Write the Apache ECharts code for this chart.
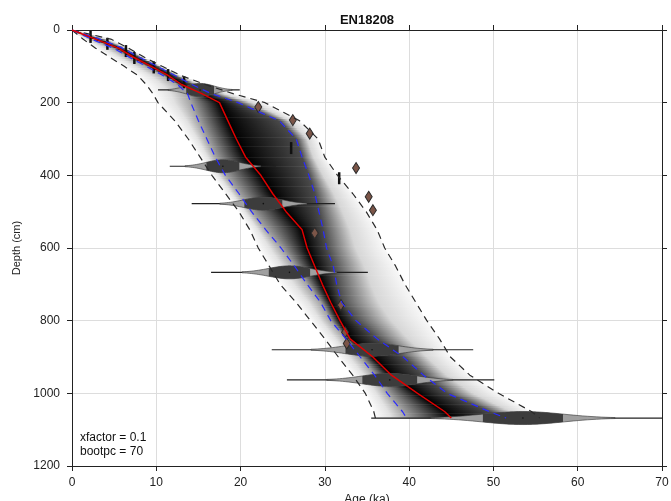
<!DOCTYPE html>
<html lang="en">
<head>
<meta charset="UTF-8">
<script src="https://cdn.jsdelivr.net/npm/echarts@6/dist/echarts.min.js"></script>
<title>EN18208</title>
<style>
  html, body { margin: 0; padding: 0; background: #fff; }
  #main { width: 671px; height: 501px; }
</style>
</head>
<body>
<div id="main"></div>
<script>
  // age-depth model quantiles (age in ka at each depth in cm)
  var depth   = [0, 25, 50, 75, 100, 125, 150, 175, 200, 250, 300, 350, 400, 450, 500, 550, 600, 650, 700, 750, 800, 850, 900, 950, 1000, 1050, 1068];
  var ageLo95 = [0, 1.3, 2.8, 4.5, 6.2, 7.8, 8.8, 9.6, 10.2, 12.2, 13.8, 15.2, 16.6, 18.2, 19.8, 21.1, 22.1, 23.4, 24.7, 26.6, 28.3, 30.0, 31.6, 33.3, 34.8, 35.8, 36.0];
  var ageLo   = [0, 2.3, 4.9, 6.8, 8.8, 10.8, 12.5, 13.7, 14.1, 15.0, 16.0, 17.0, 18.2, 19.8, 21.3, 23.0, 24.8, 26.4, 27.9, 29.5, 30.7, 32.5, 34.2, 35.9, 37.4, 39.2, 39.7];
  var ageMed  = [0, 2.8, 5.5, 7.3, 9.4, 11.4, 13.0, 15.4, 17.5, 18.5, 19.5, 20.6, 22.4, 23.8, 25.4, 27.3, 27.9, 28.8, 29.7, 30.7, 31.8, 33.0, 35.7, 37.9, 41.0, 44.2, 45.0];
  var ageHi   = [0, 3.3, 6.0, 8.0, 10.1, 12.2, 14.2, 16.5, 19.7, 24.6, 26.6, 27.3, 28.1, 28.8, 29.3, 29.8, 30.2, 31.0, 31.4, 32.0, 33.7, 36.2, 39.3, 41.7, 44.5, 49.5, 51.5];
  var ageHi95 = [0, 4.6, 6.7, 8.6, 10.7, 12.9, 15.8, 19.1, 22.9, 27.0, 29.2, 30.0, 31.5, 33.3, 34.9, 36.2, 37.1, 38.4, 39.5, 40.8, 42.1, 43.6, 44.9, 47.2, 50.6, 54.5, 55.5];

  // wide dates drawn as horizontal distributions
  var dateDepth = [165, 375, 478, 667, 880, 963, 1068];
  var dateAge   = [15.2, 17.9, 22.7, 25.8, 35.6, 37.7, 53.5];
  var dateSd    = [1.65, 1.95, 2.25, 2.45, 3.15, 3.25, 4.75];
  var dateMin   = [10.2, 11.6, 14.2, 16.5, 23.7, 25.5, 35.5];
  var dateMax   = [19.9, 24.2, 31.2, 35.1, 47.6, 50.1, 70];

  // narrow dates (thin vertical marks)
  var tickAge   = [2.2, 4.2, 6.4, 7.4, 9.7, 11.4, 13.3, 26.0, 31.7];
  var tickDepth = [19, 38, 58, 77, 103, 124, 144, 325, 408];

  // outlying dates (brown diamonds)
  var outAge   = [22.1, 26.2, 28.2, 33.7, 35.2, 35.7, 28.8, 31.9, 32.4, 32.6];
  var outDepth = [212, 248, 285, 380, 459, 496, 559, 757, 832, 863];

  function pairs(ages) {
    return depth.map(function (d, i) { return [ages[i], d]; });
  }

  var bands = [ageLo95, ageLo, ageMed, ageHi, ageHi95];

  function renderShade(params, api) {
    var i = api.value(0);
    var d0 = depth[i], d1 = depth[i + 1];
    var p0 = api.coord([0, d0])[1], p1 = api.coord([0, d1])[1];
    var steps = Math.max(1, Math.ceil((p1 - p0) / 2));
    var children = [];
    for (var k = 0; k < steps; k++) {
      var t = (k + 0.5) / steps;
      var d = d0 + (d1 - d0) * t;
      var q = bands.map(function (a) {
        return api.coord([a[i] + (a[i + 1] - a[i]) * t, d])[0];
      });
      var w = q[4] - q[0];
      if (w < 0.5) continue;
      var f = function (x) { return Math.min(1, Math.max(0, (x - q[0]) / w)); };
      var stops = [
        { offset: 0, color: '#fcfcfc' },
        { offset: f((q[0] + q[1]) / 2), color: '#e2e2e2' },
        { offset: f(q[1]), color: '#a4a4a4' },
        { offset: f(q[2]), color: '#000000' },
        { offset: f(q[3]), color: '#4a4a4a' },
        { offset: f((q[3] + q[4]) / 2), color: '#d6d6d6' },
        { offset: 1, color: '#f8f8f8' }
      ];
      var yTop = p0 + (p1 - p0) * k / steps;
      var yBot = p0 + (p1 - p0) * (k + 1) / steps;
      children.push({
        type: 'rect',
        shape: { x: q[0], y: yTop, width: w, height: yBot - yTop + 0.6 },
        style: { fill: new echarts.graphic.LinearGradient(0, 0, 1, 0, stops) },
        silent: true
      });
    }
    return { type: 'group', children: children };
  }

  function renderDate(params, api) {
    var m = api.value(0), dep = api.value(1), s = api.value(2), lo = api.value(3), hi = api.value(4);
    var yc = api.coord([m, dep])[1];
    var H = 6.5;
    function shape(a, b) {
      var top = [], bot = [];
      var n = 40;
      for (var k = 0; k <= n; k++) {
        var x = a + (b - a) * k / n;
        var px = api.coord([x, dep])[0];
        var h = Math.max(0.5, H * Math.exp(-0.5 * Math.pow((x - m) / s, 2)));
        top.push([px, yc - h]);
        bot.unshift([px, yc + h]);
      }
      return top.concat(bot);
    }
    var x0 = api.coord([lo, dep])[0], x1 = api.coord([hi, dep])[0];
    return {
      type: 'group',
      children: [
        { type: 'line', shape: { x1: x0, y1: yc, x2: x1, y2: yc }, style: { stroke: '#222', lineWidth: 1.2 } },
        { type: 'polygon', shape: { points: shape(Math.max(lo, m - 2.3 * s), Math.min(hi, m + 2.3 * s)) }, style: { fill: '#a0a0a0', stroke: '#333', lineWidth: 0.6 } },
        { type: 'polygon', shape: { points: shape(m - s, m + s) }, style: { fill: '#3c3c3c' } },
        { type: 'circle', shape: { cx: api.coord([m, dep])[0], cy: yc, r: 0.8 }, style: { fill: '#111' } }
      ]
    };
  }

  var chart = echarts.init(document.getElementById('main'));

  var font = 'Liberation Sans, Arial, sans-serif';
  var axisText = { color: '#222', fontSize: 12, fontFamily: font };

  chart.setOption({
    animation: false,
    backgroundColor: '#fff',
    grid: { left: 72, right: 9, top: 30, bottom: 35, containLabel: false, outerBoundsMode: 'none' },
    graphic: [
      { type: 'text', x: 367, y: 20, style: { text: 'EN18208', fontSize: 13, fontWeight: 'bold', fill: '#111', align: 'center', verticalAlign: 'middle', fontFamily: font } },
      { type: 'text', x: 80, y: 438, style: { text: 'xfactor = 0.1', fontSize: 12, fill: '#111', verticalAlign: 'middle', fontFamily: font } },
      { type: 'text', x: 80, y: 452, style: { text: 'bootpc = 70', fontSize: 12, fill: '#111', verticalAlign: 'middle', fontFamily: font } }
    ],
    xAxis: [
      {
        type: 'value', min: 0, max: 70, interval: 10, position: 'bottom',
        name: 'Age (ka)', nameLocation: 'middle', nameGap: 26,
        nameTextStyle: axisText,
        axisLine: { show: true, onZero: false, lineStyle: { color: '#222', width: 1 } },
        axisTick: { show: true, length: 5, lineStyle: { color: '#222' } },
        axisLabel: Object.assign({ margin: 11 }, axisText),
        splitLine: { show: true, lineStyle: { color: '#dddddd', width: 1 } }
      },
      {
        type: 'value', min: 0, max: 70, interval: 10, position: 'top',
        axisLine: { show: true, onZero: false, lineStyle: { color: '#222', width: 1 } },
        axisTick: { show: true, length: 5, lineStyle: { color: '#222' } },
        axisLabel: { show: false },
        splitLine: { show: false }
      }
    ],
    yAxis: [
      {
        type: 'value', min: 0, max: 1200, interval: 200, inverse: true, position: 'left',
        name: 'Depth (cm)', nameLocation: 'middle', nameGap: 48,
        nameTextStyle: Object.assign({}, axisText, { fontSize: 11 }),
        axisLine: { show: true, onZero: false, lineStyle: { color: '#222', width: 1 } },
        axisTick: { show: true, length: 5, lineStyle: { color: '#222' } },
        axisLabel: Object.assign({ margin: 12, formatter: function (v) { return String(v); } }, axisText),
        splitLine: { show: true, lineStyle: { color: '#dddddd', width: 1 } }
      },
      {
        type: 'value', min: 0, max: 1200, interval: 200, inverse: true, position: 'right',
        axisLine: { show: true, onZero: false, lineStyle: { color: '#222', width: 1 } },
        axisTick: { show: true, length: 5, lineStyle: { color: '#222' } },
        axisLabel: { show: false },
        splitLine: { show: false }
      }
    ],
    series: [
      {
        type: 'custom', name: 'density', renderItem: renderShade, silent: true, clip: true,
        data: depth.slice(0, -1).map(function (d, i) { return [i]; }),
        encode: { x: [], y: [] }
      },
      {
        type: 'custom', name: 'dates', renderItem: renderDate, silent: true, clip: true,
        data: dateAge.map(function (a, i) { return [a, dateDepth[i], dateSd[i], dateMin[i], dateMax[i]]; }),
        encode: { x: 0, y: 1 }
      },
      {
        type: 'line', name: 'lo95', data: pairs(ageLo95), symbol: 'none', silent: true,
        lineStyle: { color: '#2a2a2a', width: 1.2, type: [7, 5] }
      },
      {
        type: 'line', name: 'hi95', data: pairs(ageHi95), symbol: 'none', silent: true,
        lineStyle: { color: '#2a2a2a', width: 1.2, type: [7, 5] }
      },
      {
        type: 'line', name: 'lo', data: pairs(ageLo), symbol: 'none', silent: true,
        lineStyle: { color: '#2b2bff', width: 1.2, type: [7, 5] }
      },
      {
        type: 'line', name: 'hi', data: pairs(ageHi), symbol: 'none', silent: true,
        lineStyle: { color: '#2b2bff', width: 1.2, type: [7, 5] }
      },
      {
        type: 'line', name: 'median', data: pairs(ageMed), symbol: 'none', silent: true,
        lineStyle: { color: '#e00000', width: 1.5 }
      },
      {
        type: 'scatter', name: 'narrow', silent: true,
        data: tickAge.map(function (a, i) { return [a, tickDepth[i]]; }),
        symbol: 'rect', symbolSize: [2.5, 12],
        itemStyle: { color: '#111', opacity: 1 }
      },
      {
        type: 'scatter', name: 'outliers', silent: true,
        data: outAge.map(function (a, i) { return [a, outDepth[i]]; }),
        symbol: 'diamond', symbolSize: [7, 11],
        itemStyle: { color: '#7b5548', borderColor: '#2a2a2a', borderWidth: 1, opacity: 1 }
      }
    ]
  });
</script>
</body>
</html>
